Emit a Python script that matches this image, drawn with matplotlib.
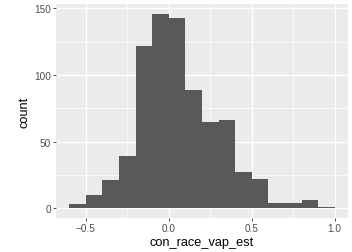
import numpy as np
import matplotlib
matplotlib.use("Agg")
import matplotlib.pyplot as plt

# histogram bins (width 0.1) and counts
bin_edges = [-0.6, -0.5, -0.4, -0.3, -0.2, -0.1, 0.0, 0.1, 0.2,
             0.3, 0.4, 0.5, 0.6, 0.7, 0.8, 0.9, 1.0]
counts = [3, 10, 21, 39, 122, 146, 143, 89, 65, 66, 27, 22, 4, 4, 6, 1]

x_ticks = [-0.5, 0.0, 0.5, 1.0]
x_tick_labels = ["\u22120.5", "0.0", "0.5", "1.0"]
y_ticks = [0, 50, 100, 150]

plt.rcParams['font.family'] = ['Liberation Sans', 'DejaVu Sans']

W, H = 352, 253
fig = plt.figure(figsize=(W / 100, H / 100), dpi=100)
ax = fig.add_axes([56 / W, (H - 219) / H, 292 / W, 214 / H])

ax.set_facecolor('#EBEBEB')
for s in ax.spines.values():
    s.set_visible(False)

edges = np.array(bin_edges)
ax.bar(edges[:-1], counts, width=np.diff(edges), align='edge',
       color='#595959', linewidth=0, zorder=3)

ax.set_xlim(-0.68, 1.08)
ax.set_ylim(-7.3, 153.3)

ax.set_xticks(x_ticks)
ax.set_xticklabels(x_tick_labels)
ax.set_yticks(y_ticks)
ax.set_xticks([-0.25, 0.25, 0.75], minor=True)
ax.set_yticks([25, 75, 125], minor=True)

ax.grid(which='major', color='white', linewidth=1.0, zorder=1)
ax.grid(which='minor', color='white', linewidth=0.5, zorder=1)
ax.set_axisbelow(True)

ax.tick_params(which='major', length=2, width=0.6, color='#333333',
               labelsize=7.2, labelcolor='#4D4D4D', pad=1.5)
ax.tick_params(which='minor', length=0)

ax.set_xlabel('con_race_vap_est', fontsize=9.2, color='black', labelpad=2)
ax.set_ylabel('count', fontsize=9.2, color='black', labelpad=3)

fig.savefig('out.png', dpi=100)
